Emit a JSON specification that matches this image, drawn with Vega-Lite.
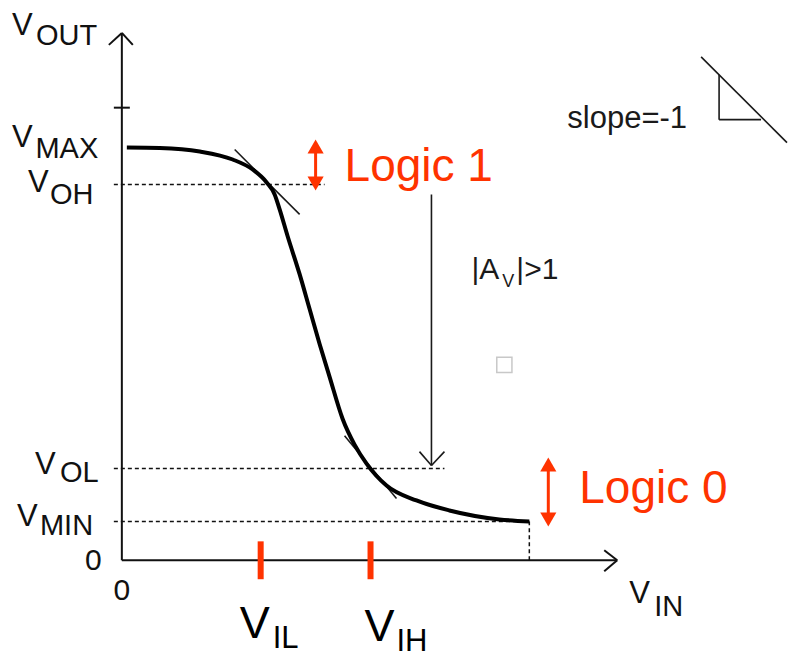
{
  "$schema": "https://vega.github.io/schema/vega-lite/v6.json",
  "width": 788,
  "height": 657,
  "autosize": {"type": "fit", "contains": "padding"},
  "padding": 0,
  "background": "white",
  "config": {"view": {"stroke": null}},
  "encoding": {
    "x": {"field": "x", "type": "quantitative", "scale": {"domain": [-1.22, 6.66], "nice": false, "zero": false}, "axis": null},
    "y": {"field": "y", "type": "quantitative", "scale": {"domain": [-0.95, 5.62], "nice": false, "zero": false}, "axis": null}
  },
  "layer": [
    {
      "data": {"values": [
        {"x": 0, "y": 0, "x2": 0, "y2": 5.29},
        {"x": 0, "y": 5.29, "x2": -0.13, "y2": 5.17},
        {"x": 0, "y": 5.29, "x2": 0.11, "y2": 5.17},
        {"x": -0.08, "y": 4.54, "x2": 0.08, "y2": 4.54},
        {"x": 0, "y": 0, "x2": 4.96, "y2": 0},
        {"x": 4.96, "y": 0, "x2": 4.83, "y2": 0.1},
        {"x": 4.96, "y": 0, "x2": 4.83, "y2": -0.11}
      ]},
      "mark": {"type": "rule", "color": "#111111", "strokeWidth": 2},
      "encoding": {"x2": {"field": "x2"}, "y2": {"field": "y2"}}
    },
    {
      "data": {"values": [
        {"x": -0.08, "y": 3.77, "x2": 2.03, "y2": 3.77},
        {"x": -0.08, "y": 0.92, "x2": 3.23, "y2": 0.92},
        {"x": -0.08, "y": 0.39, "x2": 4.08, "y2": 0.39},
        {"x": 4.08, "y": 0, "x2": 4.08, "y2": 0.39}
      ]},
      "mark": {"type": "rule", "color": "#111111", "strokeWidth": 1.5, "strokeDash": [4, 3]},
      "encoding": {"x2": {"field": "x2"}, "y2": {"field": "y2"}}
    },
    {
      "data": {"values": [
        {"x": 1.13, "y": 4.12, "x2": 1.78, "y2": 3.47},
        {"x": 2.23, "y": 1.25, "x2": 2.75, "y2": 0.62},
        {"x": 3.1, "y": 3.67, "x2": 3.1, "y2": 0.95},
        {"x": 3.1, "y": 0.95, "x2": 2.98, "y2": 1.09},
        {"x": 3.1, "y": 0.95, "x2": 3.23, "y2": 1.09},
        {"x": 5.8, "y": 5.05, "x2": 6.66, "y2": 4.19},
        {"x": 5.98, "y": 4.87, "x2": 5.98, "y2": 4.42},
        {"x": 5.98, "y": 4.42, "x2": 6.4, "y2": 4.42}
      ]},
      "mark": {"type": "rule", "color": "#1a1a1a", "strokeWidth": 1.6},
      "encoding": {"x2": {"field": "x2"}, "y2": {"field": "y2"}}
    },
    {
      "data": {"values": [
        {"x": 0.05, "y": 4.14},
        {"x": 0.38, "y": 4.135},
        {"x": 0.78, "y": 4.1},
        {"x": 1.11, "y": 4.02},
        {"x": 1.31, "y": 3.92},
        {"x": 1.45, "y": 3.79},
        {"x": 1.53, "y": 3.67},
        {"x": 1.58, "y": 3.52},
        {"x": 1.66, "y": 3.25},
        {"x": 1.78, "y": 2.87},
        {"x": 1.88, "y": 2.52},
        {"x": 1.98, "y": 2.17},
        {"x": 2.08, "y": 1.84},
        {"x": 2.21, "y": 1.42},
        {"x": 2.33, "y": 1.16},
        {"x": 2.45, "y": 0.97},
        {"x": 2.65, "y": 0.75},
        {"x": 2.95, "y": 0.6},
        {"x": 3.28, "y": 0.5},
        {"x": 3.78, "y": 0.41},
        {"x": 4.08, "y": 0.39}
      ]},
      "mark": {"type": "line", "color": "#000000", "strokeWidth": 4, "interpolate": "monotone"},
      "encoding": {"order": {"field": "x", "type": "quantitative"}}
    },
    {
      "data": {"values": [
        {"x": 1.94, "y": 4.14, "x2": 1.94, "y2": 3.79},
        {"x": 4.27, "y": 0.95, "x2": 4.27, "y2": 0.42}
      ]},
      "mark": {"type": "rule", "color": "#ff3300", "strokeWidth": 3},
      "encoding": {"x2": {"field": "x2"}, "y2": {"field": "y2"}}
    },
    {
      "data": {"values": [
        {"x": 1.39, "y": 0.19, "x2": 1.39, "y2": -0.19},
        {"x": 2.49, "y": 0.19, "x2": 2.49, "y2": -0.19}
      ]},
      "mark": {"type": "rule", "color": "#ff3300", "strokeWidth": 6},
      "encoding": {"x2": {"field": "x2"}, "y2": {"field": "y2"}}
    },
    {
      "data": {"values": [
        {"x": 1.94, "y": 4.15},
        {"x": 4.27, "y": 0.96}
      ]},
      "mark": {"type": "point", "shape": "triangle-up", "filled": true, "color": "#ff3300", "opacity": 1, "size": 260}
    },
    {
      "data": {"values": [
        {"x": 1.94, "y": 3.78},
        {"x": 4.27, "y": 0.41}
      ]},
      "mark": {"type": "point", "shape": "triangle-down", "filled": true, "color": "#ff3300", "opacity": 1, "size": 260}
    },
    {
      "data": {"values": [
        {"x": 3.83, "y": 1.96}
      ]},
      "mark": {"type": "point", "shape": "square", "filled": false, "color": "#c8c8c8", "opacity": 1, "strokeWidth": 1.5, "size": 230}
    },
    {
      "data": {"values": [
        {"x": -1.1, "y": 5.27, "t": "V"},
        {"x": -1.1, "y": 4.15, "t": "V"},
        {"x": -0.94, "y": 3.69, "t": "V"},
        {"x": -0.87, "y": 0.87, "t": "V"},
        {"x": -1.05, "y": 0.34, "t": "V"},
        {"x": 5.08, "y": -0.43, "t": "V"}
      ]},
      "mark": {"type": "text", "font": "Liberation Sans", "fontSize": 31, "color": "#111111", "align": "left", "baseline": "alphabetic"},
      "encoding": {"text": {"field": "t"}}
    },
    {
      "data": {"values": [
        {"x": -0.86, "y": 5.17, "t": "OUT"},
        {"x": -0.865, "y": 4.04, "t": "MAX"},
        {"x": -0.72, "y": 3.57, "t": "OH"},
        {"x": -0.62, "y": 0.79, "t": "OL"},
        {"x": -0.82, "y": 0.25, "t": "MIN"},
        {"x": 5.33, "y": -0.56, "t": "IN"}
      ]},
      "mark": {"type": "text", "font": "Liberation Sans", "fontSize": 29, "color": "#111111", "align": "left", "baseline": "alphabetic"},
      "encoding": {"text": {"field": "t"}}
    },
    {
      "data": {"values": [
        {"x": 0, "y": -0.4, "t": "0"},
        {"x": -0.285, "y": -0.1, "t": "0"}
      ]},
      "mark": {"type": "text", "font": "Liberation Sans", "fontSize": 30, "color": "#111111", "align": "center", "baseline": "alphabetic"},
      "encoding": {"text": {"field": "t"}}
    },
    {
      "data": {"values": [
        {"x": 1.18, "y": -0.78, "t": "V"},
        {"x": 2.43, "y": -0.81, "t": "V"}
      ]},
      "mark": {"type": "text", "font": "Liberation Sans", "fontSize": 45, "color": "#000000", "align": "left", "baseline": "alphabetic"},
      "encoding": {"text": {"field": "t"}}
    },
    {
      "data": {"values": [
        {"x": 1.51, "y": -0.88, "t": "IL"},
        {"x": 2.75, "y": -0.91, "t": "IH"}
      ]},
      "mark": {"type": "text", "font": "Liberation Sans", "fontSize": 31, "color": "#000000", "align": "left", "baseline": "alphabetic"},
      "encoding": {"text": {"field": "t"}}
    },
    {
      "data": {"values": [
        {"x": 2.23, "y": 3.8, "t": "Logic 1"},
        {"x": 4.58, "y": 0.57, "t": "Logic 0"}
      ]},
      "mark": {"type": "text", "font": "Liberation Sans", "fontSize": 46, "color": "#ff3300", "align": "left", "baseline": "alphabetic"},
      "encoding": {"text": {"field": "t"}}
    },
    {
      "data": {"values": [
        {"x": 4.46, "y": 4.34, "t": "slope=-1"}
      ]},
      "mark": {"type": "text", "font": "Liberation Sans", "fontSize": 31, "color": "#1a1a1a", "align": "left", "baseline": "alphabetic"},
      "encoding": {"text": {"field": "t"}}
    },
    {
      "data": {"values": [
        {"x": 3.5, "y": 2.82, "t": "|A"},
        {"x": 3.95, "y": 2.82, "t": "|>1"}
      ]},
      "mark": {"type": "text", "font": "Liberation Sans", "fontSize": 30, "color": "#1a1a1a", "align": "left", "baseline": "alphabetic"},
      "encoding": {"text": {"field": "t"}}
    },
    {
      "data": {"values": [
        {"x": 3.81, "y": 2.74, "t": "V"}
      ]},
      "mark": {"type": "text", "font": "Liberation Sans", "fontSize": 18, "color": "#1a1a1a", "align": "left", "baseline": "alphabetic"},
      "encoding": {"text": {"field": "t"}}
    }
  ]
}
